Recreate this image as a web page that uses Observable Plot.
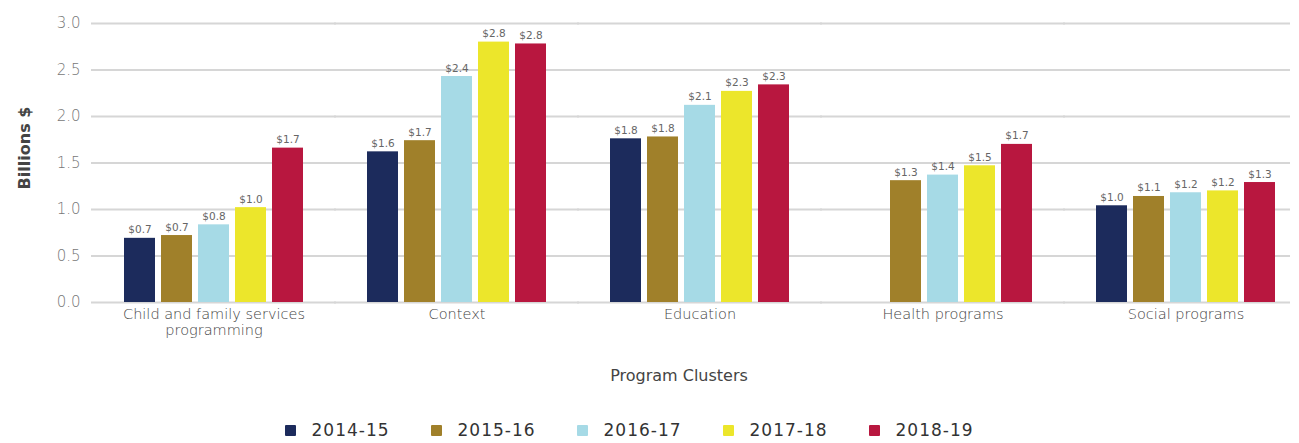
<!DOCTYPE html>
<html>
<head>
<meta charset="utf-8">
<script src="https://cdn.jsdelivr.net/npm/d3@7"></script>
<script src="https://cdn.jsdelivr.net/npm/@observablehq/plot@0.6"></script>
<style>
  body { margin: 0; background: #fff; font-family: "DejaVu Sans", sans-serif; }
  #legend { display: flex; justify-content: center; margin-top: 20px; padding-left: 0px; }
  .item { display: flex; align-items: center; width: 146px; font-size: 17px; color: #333; letter-spacing: 1px; }
  .sw { width: 11px; height: 11px; margin-right: 16px; border-radius: 1px; }
  .ticks-fx text { letter-spacing: 0.6px; }
</style>
</head>
<body>
<div id="chart"></div>
<div id="legend"></div>
<script>
const categories = ["Child and family services programming", "Context", "Education", "Health programs", "Social programs"];
const years = ["2014-15", "2015-16", "2016-17", "2017-18", "2018-19"];
const colors = ["#1c2b5c", "#a0802a", "#a6dae6", "#ece62b", "#b8173f"];
const v2014 = [0.69, 1.62, 1.76, null, 1.04];
const v2015 = [0.72, 1.74, 1.78, 1.31, 1.14];
const v2016 = [0.835, 2.43, 2.12, 1.37, 1.18];
const v2017 = [1.02, 2.80, 2.27, 1.47, 1.20];
const v2018 = [1.66, 2.78, 2.34, 1.70, 1.29];
const yTicks = [0, 0.5, 1.0, 1.5, 2.0, 2.5, 3.0];

const series = [v2014, v2015, v2016, v2017, v2018];
const data = [];
categories.forEach((c, i) => {
  years.forEach((y, j) => {
    const v = series[j][i];
    if (v != null) data.push({category: c, year: y, value: v});
  });
});

const last = categories[categories.length - 1];
const grid = categories.flatMap(c => yTicks.map(t => ({category: c, tick: t})));
const fmt = d3.format(".1f");

const plot = Plot.plot({
  width: 1299,
  height: 400,
  marginTop: 23,
  marginBottom: 98,
  marginLeft: 86,
  marginRight: 12,
  style: {fontFamily: "'DejaVu Sans', sans-serif", background: "#fff"},
  fx: {domain: categories, range: [111, 1287], paddingInner: 0.257, paddingOuter: 0.04, label: null},
  x: {domain: years, paddingInner: 0.15, paddingOuter: 0, axis: null},
  y: {domain: [0, 3.0], axis: null},
  color: {domain: years, range: colors},
  marks: [
    Plot.ruleY(grid.filter(d => d.category !== last), {fx: "category", y: "tick", stroke: "#d6d6d6", strokeWidth: 2, insetLeft: -32, insetRight: -32}),
    Plot.ruleY(grid.filter(d => d.category === last), {fx: "category", y: "tick", stroke: "#d6d6d6", strokeWidth: 2, insetLeft: -32, insetRight: -14}),
    Plot.text(yTicks, {fx: () => categories[0], y: d => d, text: d => fmt(d), frameAnchor: "left", textAnchor: "end", dx: -43, fontSize: 15, fontWeight: 300, fill: "#777"}),
    Plot.text(["Billions $"], {fx: () => categories[0], text: d => d, frameAnchor: "left", textAnchor: "middle", rotate: -90, dx: -99, dy: -15, fontSize: 16, fontWeight: 600, fill: "#444"}),
    Plot.text(["Program Clusters"], {fx: () => categories[2], text: d => d, frameAnchor: "bottom", lineAnchor: "middle", dy: 73, dx: -21, fontSize: 16, fontWeight: 500, fill: "#444"}),
    Plot.barY(data, {fx: "category", x: "year", y: "value", fill: "year"}),
    Plot.text(data, {fx: "category", x: "year", y: "value", text: d => "$" + fmt(d.value), lineAnchor: "bottom", dy: -5, fontSize: 10.5, fill: "#666"}),
    Plot.axisFx({anchor: "bottom", tickSize: 0, tickPadding: 6, label: null, fontSize: 14.5, fontWeight: 300, lineHeight: 1.05, fill: "#444",
      tickFormat: d => d.replace(" services ", " services\n")})
  ]
});
document.getElementById("chart").append(plot);

const legend = document.getElementById("legend");
years.forEach((y, i) => {
  const item = document.createElement("div");
  item.className = "item";
  const sw = document.createElement("div");
  sw.className = "sw";
  sw.style.background = colors[i];
  const t = document.createElement("span");
  t.textContent = y;
  item.append(sw, t);
  legend.append(item);
});
</script>
</body>
</html>
